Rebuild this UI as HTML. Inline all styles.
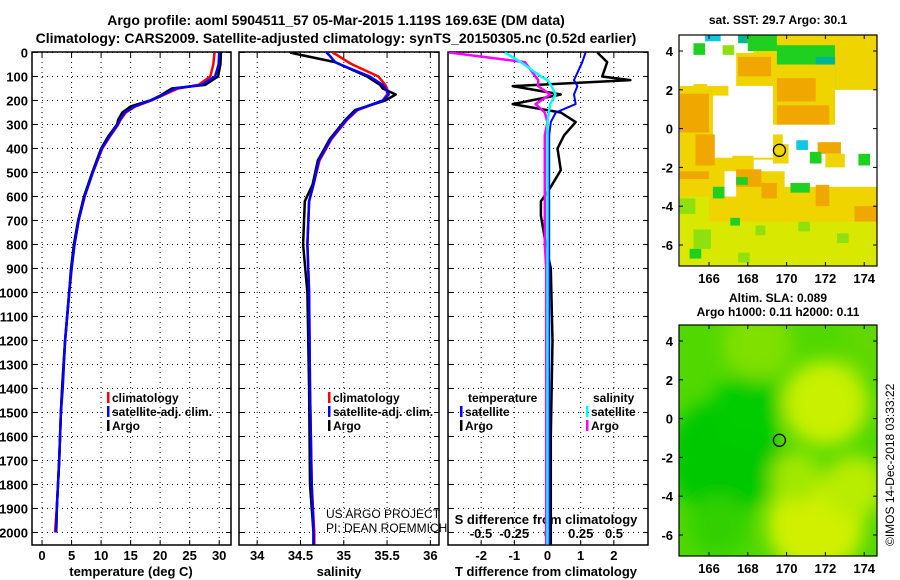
<!DOCTYPE html>
<html><head><meta charset="utf-8"><style>
html,body{margin:0;padding:0;background:#fff;}
svg{display:block;font-family:"Liberation Sans",Arial,sans-serif;}
text{font-weight:bold;fill:#000;}
</style></head><body>
<svg id="fig" width="900" height="580" viewBox="0 0 900 580" xmlns="http://www.w3.org/2000/svg">
<text x="336" y="25" font-size="14" text-anchor="middle">Argo profile: aoml 5904511_57 05-Mar-2015 1.119S 169.63E (DM data)</text>
<text x="336" y="43" font-size="14" text-anchor="middle">Climatology: CARS2009. Satellite-adjusted climatology: synTS_20150305.nc (0.52d earlier)</text>
<text x="778" y="24" font-size="12" text-anchor="middle">sat. SST: 29.7 Argo: 30.1</text>
<text x="778" y="302" font-size="12" text-anchor="middle">Altim. SLA: 0.089</text>
<text x="778" y="316" font-size="12" text-anchor="middle">Argo h1000: 0.11 h2000: 0.11</text>
<text transform="translate(894,546) rotate(-90)" font-size="12" style="font-weight:normal">©IMOS 14-Dec-2018 03:33:22</text>
<g id="g"></g>
</svg>
<script>
// ---------- profile data ----------
const tDepth   = [0,50,100,135,150,180,200,225,250,280,300,350,400,500,600,700,800,900,1000,1200,1400,1500,1700,1900,2000];
const tArgo    = [30.3,30.2,29.8,27.6,22,20,18.3,15,13.6,12.9,12.7,11.2,10,8.5,7.1,6.1,5.4,4.9,4.6,3.9,3.4,3.2,2.9,2.5,2.4];
const tClim    = [29.2,29.0,28.5,26.5,23,20.3,18.5,15.8,14.2,13.3,12.9,11.5,10.2,8.6,7.2,6.2,5.5,5.0,4.6,3.9,3.4,3.2,2.9,2.5,2.2];
const tSat     = [30.0,29.9,29.3,27.0,22.5,20.2,18.4,15.6,14.0,13.2,12.8,11.4,10.1,8.6,7.2,6.2,5.5,5.0,4.6,3.9,3.5,3.2,2.9,2.5,2.4];
const sDepth   = [0,10,40,50,100,135,150,175,200,240,280,360,450,550,620,800,1000,1400,1800,2000,2050];
const sArgo    = [34.38,34.5,34.9,34.96,35.27,35.42,35.45,35.6,35.48,35.13,35.02,34.84,34.70,34.64,34.55,34.53,34.58,34.6,34.61,34.65,34.65];
const sClim    = [34.87,34.92,35.05,35.1,35.40,35.48,35.50,35.5,35.45,35.16,35.04,34.86,34.72,34.65,34.6,34.58,34.6,34.61,34.63,34.66,34.66];
const sSat     = [34.80,34.83,34.9,34.96,35.30,35.45,35.48,35.52,35.45,35.15,35.03,34.85,34.71,34.65,34.6,34.58,34.6,34.61,34.63,34.65,34.65];
const dDepth   = [0,40,100,115,140,175,215,250,290,345,400,490,560,620,680,800,900,1200,1600,2050];
const dTArgo   = [1.5,1.8,1.65,2.5,-1.05,0.4,-1.05,0.4,0.85,0.5,0.3,0.4,0.1,-0.2,-0.2,-0.05,0.1,0.15,0.1,0.1];
const dTSat    = [1.15,1.05,0.85,0.8,0.9,0.8,0.85,0.25,0.1,0.05,0.05,0.05,0.05,0.05,0.05,0.05,0.05,0.05,0.05,0.05];
const dSArgo   = [-0.74,-0.17,-0.09,-0.07,-0.07,0.02,-0.09,-0.02,0,-0.02,-0.02,-0.02,-0.02,-0.02,-0.02,-0.02,-0.01,-0.01,-0.01,-0.01];
const dSSat    = [-0.32,-0.2,-0.05,0,0.03,0.06,0.02,0.01,0,0,0,0,0,0,0,0,0,0,0,0];
const depthTicks = [0,100,200,300,400,500,600,700,800,900,1000,1100,1200,1300,1400,1500,1600,1700,1800,1900,2000];
const tTicks   = [0,5,10,15,20,25,30];
const sTicks   = [34,34.5,35,35.5,36];
const sTickLabels = ["34","34.5","35","35.5","36"];
const dTTicks  = [-2,-1,0,1,2];
const dSTicks  = [-0.5,-0.25,0,0.25,0.5];
const dSTickLabels = ["-0.5","-0.25","0","0.25","0.5"];
// ---------- map data ----------
const latTicks = [4,2,0,-2,-4,-6];
const lonTicks = [166,168,170,172,174];
const argoLon = 169.63, argoLat = -1.119;
// SST patches: [lon0, lon1, lat0(top), lat1(bottom), colour-key]
const sstPatches = [
 [164.5,174.7,4.8,-7.1,'y'],
 [164.5,167.4,4.8,2.2,'w'],[165.2,165.8,4.4,3.8,'g'],[165.8,166.6,4.8,4.5,'c'],[166.7,167.3,4.3,3.8,'lg'],
 [165.2,165.9,2.3,2.0,'y'],
 [167.4,168.3,4.8,3.9,'w'],[167.5,168.0,4.8,4.4,'t'],[168.0,169.5,4.8,4.0,'g'],[169.5,172.5,4.3,3.3,'g'],[171.5,173.5,3.7,2.6,'t'],[172.5,174.0,3.0,2.0,'g'],
 [167.5,169.2,3.7,2.7,'o'],
 [167.0,169.3,2.2,1.6,'w'],[166.2,169.3,1.7,-1.5,'w'],
 [169.3,172.5,3.3,0.3,'y'],[172.5,174.7,4.8,2.0,'y'],
 [169.5,171.5,2.6,1.4,'o'],[169.5,172.2,1.2,0.2,'o'],
 [165.3,166.3,-0.3,-1.9,'o'],[164.5,166.0,1.8,-0.2,'o'],
 [169.2,174.7,0.2,-1.3,'w'],[172.5,174.7,2.0,-3.1,'w'],[169.9,172.6,-0.1,-3.0,'w'],[168.3,170.3,-1.6,-2.2,'w'],
 [169.3,169.8,-0.3,-0.8,'y'],[169.3,170.1,-0.8,-1.8,'y'],[170.5,171.1,-0.6,-1.1,'c'],
 [171.6,172.8,-0.7,-1.3,'o'],[172.0,173.0,-1.3,-2.0,'y'],[171.2,171.8,-1.2,-1.8,'g'],[173.7,174.3,-1.3,-1.9,'g'],
 [167.2,168.3,-1.4,-2.3,'y'],[166.8,167.4,-2.2,-3.5,'w'],[164.5,166.0,-2.2,-2.6,'o'],[167.4,168.7,-2.1,-3.0,'o'],[167.4,168.0,-2.5,-2.9,'g'],
 [168.7,169.5,-2.8,-3.6,'o'],[170.2,171.2,-2.8,-3.3,'g'],[171.5,172.2,-2.9,-4.0,'o'],[172.5,174.7,-3.0,-4.0,'y'],[173.5,174.7,-4.0,-4.8,'o'],
 [164.5,166.0,-3.5,-7.1,'ly'],[166.0,174.7,-4.8,-7.1,'ly'],[165.2,166.1,-5.2,-6.2,'lg'],[167.1,167.6,-4.6,-5.0,'g'],
 [164.5,165.3,-3.6,-4.4,'lg'],[166.2,166.8,-3.0,-3.6,'g'],[168.4,168.9,-5.0,-5.5,'lg'],[170.6,171.2,-4.8,-5.3,'lg'],[172.6,173.2,-5.4,-5.9,'lg'],[165.0,165.6,-6.2,-6.7,'g'],[167.5,168.1,-6.4,-6.9,'lg']
];
const sstColours = {y:'#f0d400',o:'#f0a800',w:'#ffffff',g:'#20d020',lg:'#90e010',t:'#00b890',c:'#10c8e0',ly:'#d8e800'};
// SLA blobs: [lon, lat, radius-deg, colour]
const slaBlobs = [
 [166.8,-2.0,3.0,'#00c800'],[168.0,0.5,1.8,'#00cc00'],[166.5,-5.5,1.5,'#30d000'],
 [172.0,0.8,2.2,'#c8f000'],[171.5,-5.5,2.5,'#d0f000'],[170.5,-3.0,1.3,'#a0e800'],[173.5,-3.5,1.6,'#b8ec00'],[168.5,3.8,1.8,'#80e000'],[174.3,4.0,1.4,'#60d800']
];

const NS='http://www.w3.org/2000/svg';
const G=document.getElementById('g');
function el(tag,attrs,parent){const e=document.createElementNS(NS,tag);for(const k in attrs)e.setAttribute(k,attrs[k]);(parent||G).appendChild(e);return e;}
function txt(x,y,s,size,anchor,parent){const t=el('text',{x:x,y:y,'font-size':size,'text-anchor':anchor||'middle'},parent);t.textContent=s;return t;}

const Y0=52.5, YS=0.24, PT=52, PB=545;
const yD=d=>Y0+d*YS;
const panels=[
 {x0:32,x1:231,v0:-1.7,v1:32.0,name:'temperature-panel'},
 {x0:239,x1:439,v0:33.79,v1:36.1,name:'salinity-panel'},
 {x0:448,x1:648,v0:-3.0,v1:3.03,name:'difference-panel'}
];
panels.forEach(p=>{p.sx=v=>p.x0+(v-p.v0)/(p.v1-p.v0)*(p.x1-p.x0);});
const xT=panels[0].sx, xS=panels[1].sx, xDT=panels[2].sx;
const xDS=v=>xDT(0)+v*133;

function line(xs,ys,xf,col,w,name,parent){
 const pts=xs.map((v,i)=>xf(v).toFixed(1)+','+yD(ys[i]).toFixed(1)).join(' ');
 const l=el('polyline',{points:pts,fill:'none',stroke:col,'stroke-width':w,'stroke-linejoin':'round'},parent);
 
 
 return l;
}

panels.forEach((p,pi)=>{
 const g=el('g',{});
 
 
 depthTicks.forEach(d=>{
  el('line',{x1:p.x0,x2:p.x1,y1:yD(d),y2:yD(d),stroke:'#000','stroke-width':1,'stroke-dasharray':'1,4'},g);
  el('line',{x1:p.x0,x2:p.x0+5,y1:yD(d),y2:yD(d),stroke:'#000','stroke-width':1},g);
  el('line',{x1:p.x1-5,x2:p.x1,y1:yD(d),y2:yD(d),stroke:'#000','stroke-width':1},g);
 });
 const xt = pi===0?tTicks:(pi===1?sTicks:dTTicks);
 xt.forEach(v=>{
  const x=p.sx(v);
  el('line',{x1:x,x2:x,y1:PT,y2:PB,stroke:'#000','stroke-width':1,'stroke-dasharray':'1,4'},g);
  el('line',{x1:x,x2:x,y1:PB-5,y2:PB,stroke:'#000','stroke-width':1},g);
  el('line',{x1:x,x2:x,y1:PT,y2:PT+5,stroke:'#000','stroke-width':1},g);
 });
 el('rect',{x:p.x0,y:PT,width:p.x1-p.x0,height:PB-PT,fill:'none',stroke:'#000','stroke-width':1.5},g);
});
const dl=el('g',{});


depthTicks.forEach(d=>txt(28,yD(d)+5,String(d),13,'end',dl));
const xl=el('g',{});


tTicks.forEach(v=>txt(xT(v),560,String(v),13,'middle',xl));
sTicks.forEach((v,i)=>txt(xS(v),560,sTickLabels[i],13,'middle',xl));
dTTicks.forEach(v=>txt(xDT(v),560,String(v),13,'middle',xl));
dSTicks.forEach((v,i)=>txt(xDS(v),538,dSTickLabels[i],13,'middle',xl));
txt(131,576,'temperature (deg C)',13,'middle');
txt(339,576,'salinity',13,'middle');
txt(546,576,'T difference from climatology',13,'middle');
txt(546,524,'S difference from climatology',13,'middle');

const defs=el('defs',{});
panels.forEach((p,i)=>{const c=el('clipPath',{id:'c'+i},defs);el('rect',{x:p.x0,y:PT,width:p.x1-p.x0,height:PB-PT},c);});
const g0=el('g',{'clip-path':'url(#c0)'}),g1=el('g',{'clip-path':'url(#c1)'}),g2=el('g',{'clip-path':'url(#c2)'});
line(tClim,tDepth,xT,'#ff0000',2.5,'temp-climatology-line',g0);
line(tArgo,tDepth,xT,'#000',2.5,'temp-argo-line',g0);
line(tSat,tDepth,xT,'#0000ff',2.5,'temp-satellite-line',g0);
line(sClim,sDepth,xS,'#ff0000',2.5,'sal-climatology-line',g1);
line(sArgo,sDepth,xS,'#000',2.5,'sal-argo-line',g1);
line(sSat,sDepth,xS,'#0000ff',2.5,'sal-satellite-line',g1);
line(dTArgo,dDepth,xDT,'#000',2.5,'tdiff-argo-line',g2);
line(dTSat,dDepth,xDT,'#0000ff',2,'tdiff-satellite-line',g2);
line(dSArgo,dDepth,xDS,'#ff00ff',2.5,'sdiff-argo-line',g2);
line(dSSat,dDepth,xDS,'#00ffff',2.5,'sdiff-satellite-line',g2);

function legend(x,y,col,label,name){
 const g=el('g',{});
 
 
 el('rect',{x:x,y:y-10,width:2.5,height:11,fill:col},g);
 txt(x+5,y,label,12,'start',g);
}
legend(107,402,'#ff0000','climatology','legend-climatology-1');
legend(107,416,'#0000ff','satellite-adj. clim.','legend-satellite-1');
legend(107,430,'#000','Argo','legend-argo-1');
legend(328,402,'#ff0000','climatology','legend-climatology-2');
legend(328,416,'#0000ff','satellite-adj. clim.','legend-satellite-2');
legend(328,430,'#000','Argo','legend-argo-2');
txt(468,402,'temperature',12,'start');
legend(460,416,'#0000ff','satellite','legend-t-satellite');
legend(460,430,'#000','Argo','legend-t-argo');
txt(593,402,'salinity',12,'start');
legend(586,416,'#00ffff','satellite','legend-s-satellite');
legend(586,430,'#ff00ff','Argo','legend-s-argo');
const c1=txt(326,518,'US ARGO PROJECT',12,'start');c1.style.fontWeight='normal';
const c2=txt(326,532,'PI: DEAN ROEMMICH',12,'start');c2.style.fontWeight='normal';

const MX0=679,MX1=877;
const lonX=l=>709+(l-166)*19.4;
function makeMap(top,name){
 const latY=la=>top+16+(4-la)*19.4;
 const bot=top+231;
 const g=el('g',{});
 
 
 const c=el('clipPath',{id:'cl'+name},defs);el('rect',{x:MX0,y:top,width:MX1-MX0,height:bot-top},c);
 const inner=el('g',{'clip-path':'url(#cl'+name+')'},g);
 return {g,inner,latY,top,bot};
}
function mapAxes(m){
 latTicks.forEach(la=>{const y=m.latY(la);
  el('line',{x1:MX0,x2:MX0+4,y1:y,y2:y,stroke:'#000'},m.g);el('line',{x1:MX1-4,x2:MX1,y1:y,y2:y,stroke:'#000'},m.g);
  txt(673,y+5,String(la),13,'end',m.g);});
 lonTicks.forEach(lo=>{const x=lonX(lo);
  el('line',{x1:x,x2:x,y1:m.bot-4,y2:m.bot,stroke:'#000'},m.g);el('line',{x1:x,x2:x,y1:m.top,y2:m.top+4,stroke:'#000'},m.g);
  txt(x,m.bot+17,String(lo),13,'middle',m.g);});
 el('rect',{x:MX0,y:m.top,width:MX1-MX0,height:m.bot-m.top,fill:'none',stroke:'#000','stroke-width':1.2},m.g);
 const ci=el('circle',{cx:lonX(argoLon),cy:m.latY(argoLat),r:6,fill:'none',stroke:'#000','stroke-width':1.3},m.g);
 
 
}
const m1=makeMap(35,'sst-map');
sstPatches.forEach(p=>{
 const r=el('rect',{x:lonX(p[0]),y:m1.latY(p[2]),width:lonX(p[1])-lonX(p[0]),height:m1.latY(p[3])-m1.latY(p[2]),fill:sstColours[p[4]]},m1.inner);
 
 
});
mapAxes(m1);
const m2=makeMap(325,'sla-map');
const fdef=el('filter',{id:'blur',x:'-50%',y:'-50%',width:'200%',height:'200%'},defs);el('feGaussianBlur',{stdDeviation:9},fdef);
el('rect',{x:MX0,y:m2.top,width:MX1-MX0,height:m2.bot-m2.top,fill:'#50d800'},m2.inner);
const bg=el('g',{filter:'url(#blur)'},m2.inner);
slaBlobs.forEach(b=>{
 const c=el('circle',{cx:lonX(b[0]),cy:m2.latY(b[1]),r:b[2]*19.4,fill:b[3]},bg);
 
 
});
mapAxes(m2);
</script>
</body></html>
